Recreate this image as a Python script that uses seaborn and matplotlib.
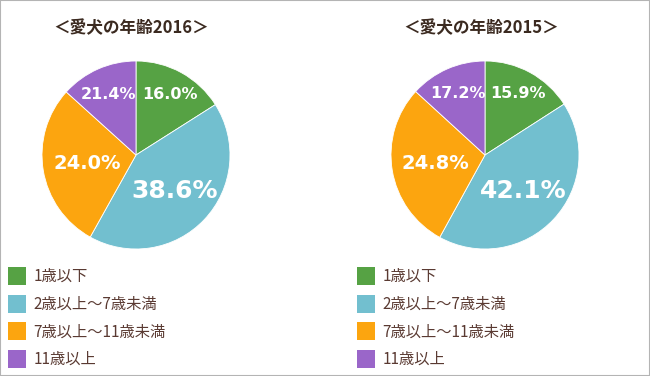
import matplotlib
matplotlib.use("Agg")
import numpy as np
import matplotlib.pyplot as plt
from matplotlib.patches import Patch, Rectangle
import seaborn as sns

sns.set_theme(style="white")
plt.rcParams['font.family'] = ['Noto Sans CJK JP', 'DejaVu Sans']

# categories and colours
categories = ['1歳以下', '2歳以上～7歳未満', '7歳以上～11歳未満', '11歳以上']
colors = ['#56a244', '#72bfcf', '#fca50f', '#9a66c9']

# printed percentages
labels_2016 = ['16.0%', '38.6%', '24.0%', '21.4%']
labels_2015 = ['15.9%', '42.1%', '24.8%', '17.2%']

# slice shares as they are drawn in the picture (the drawn wedges differ from the printed labels)
shares_2016 = [16.0, 42.1, 28.6, 13.3]
shares_2015 = [15.9, 42.1, 28.8, 13.2]

titles = ['＜愛犬の年齢2016＞', '＜愛犬の年齢2015＞']

# label placement per slice (radius fraction) and size
label_dist = [0.74, 0.56, 0.53, 0.71]
label_size = [11.5, 18, 14, 11.5]

W, H = 650, 376
fig = plt.figure(figsize=(W / 100, H / 100), dpi=100)
fig.patch.set_facecolor('white')


def draw_pie(cx, cy, r, shares, labels, title, tx):
    ax = fig.add_axes([(cx - r) / W, 1 - (cy + r) / H, 2 * r / W, 2 * r / H])
    wedges, _ = ax.pie(shares, colors=colors, startangle=90, counterclock=False,
                       wedgeprops=dict(edgecolor='white', linewidth=0.6))
    ax.set_xlim(-1, 1)
    ax.set_ylim(-1, 1)
    ax.set_aspect('equal')
    ax.axis('off')
    for w, lab, d, fs in zip(wedges, labels, label_dist, label_size):
        mid = np.deg2rad((w.theta1 + w.theta2) / 2)
        ax.text(d * np.cos(mid), d * np.sin(mid), lab, ha='center', va='center',
                color='white', fontsize=fs, fontweight='bold', family='DejaVu Sans')
    fig.text(tx / W, 1 - 28 / H, title, ha='center', va='center', fontsize=12,
             fontweight='bold', color='#3b2a20')


draw_pie(136, 155, 94, shares_2016, labels_2016, titles[0], 131)
draw_pie(485, 155, 94, shares_2015, labels_2015, titles[1], 481)

handles = [Patch(facecolor=c, edgecolor='none') for c in colors]
for lx in (8, 357):
    fig.legend(handles, categories, loc='upper left',
               bbox_to_anchor=(lx / W, 1 - 267 / H), frameon=False,
               fontsize=11, handlelength=1.15, handleheight=1.45,
               handletextpad=0.5, labelspacing=0.62, borderpad=0,
               borderaxespad=0, labelcolor='#5a3a32')

fig.patches.append(Rectangle((0, 0), 1, 1, transform=fig.transFigure, fill=False,
                             edgecolor='#b4b4b4', linewidth=1.5))

fig.savefig('out.png', dpi=100)
